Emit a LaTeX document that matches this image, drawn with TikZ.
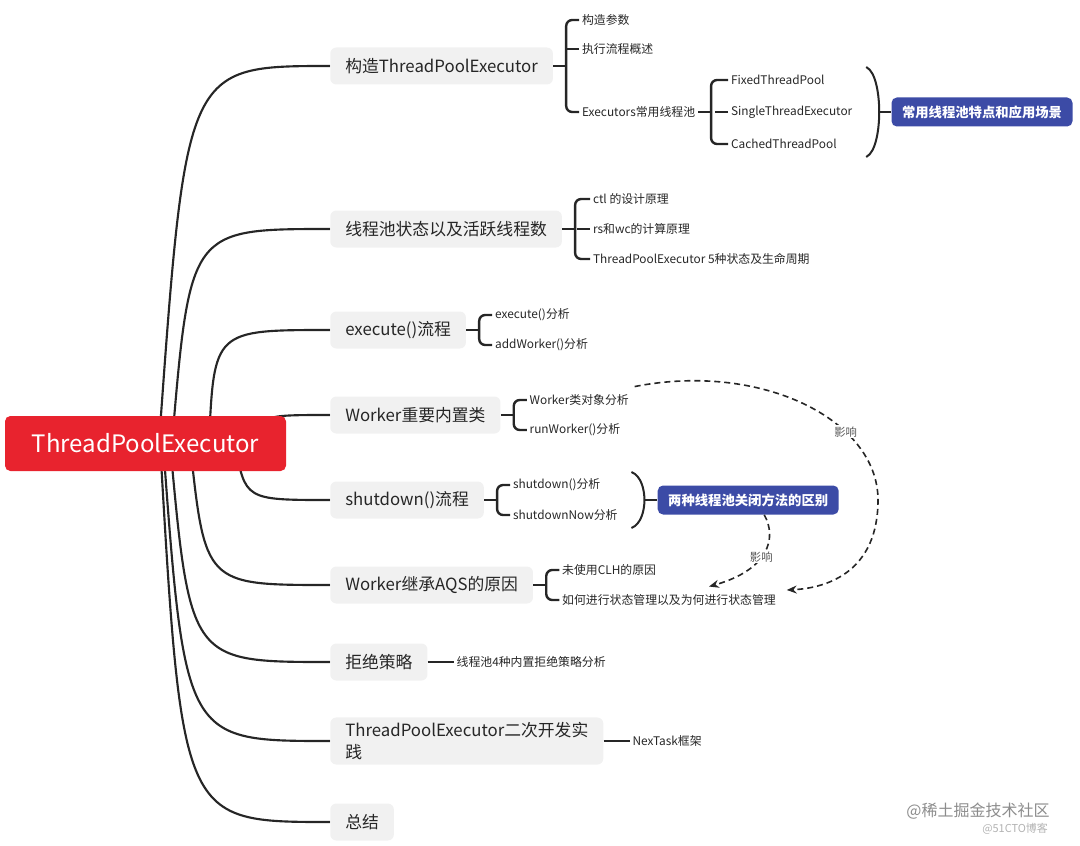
\documentclass[tikz,border=0pt]{standalone}
\usepackage{fontspec}
\setmainfont{Noto Sans CJK SC}
\usetikzlibrary{arrows.meta,backgrounds,calc}

\definecolor{rootred}{HTML}{E8232E}
\definecolor{tagblue}{HTML}{3C4BA6}
\definecolor{boxgray}{HTML}{F1F1F1}
\definecolor{inkdark}{HTML}{262626}

\tikzset{
  rootbox/.style={fill=rootred, rounded corners=4pt, text=white,
    font=\fontsize{18}{21}\selectfont, minimum width=210.75pt, minimum height=41.25pt},
  mainbox/.style={fill=boxgray, rounded corners=4.5pt, text=inkdark, anchor=west,
    font=\fontsize{12.6}{17}\selectfont, align=left, inner xsep=11.25pt, minimum height=27.75pt},
  leaf/.style={text=inkdark, font=\fontsize{8.9}{10}\selectfont, anchor=west, inner xsep=2pt, inner ysep=2pt},
  tagbox/.style={fill=tagblue, rounded corners=4pt, text=white, anchor=west,
    font=\fontsize{10}{12}\selectfont\bfseries, minimum width=135.75pt, minimum height=21.75pt},
  mainline/.style={line width=1.6pt, draw=inkdark},
  braceline/.style={line width=1.8pt, draw=inkdark, rounded corners=4.5pt},
  effect/.style={dash pattern=on 4.5pt off 3pt, line width=1.2pt, draw=inkdark, -{Stealth[length=7.5pt,width=6pt]}},
  effectlabel/.style={text=black!65, fill=white, inner sep=1pt, font=\fontsize{8.5}{10}\selectfont},
  watermark/.style={text=black!45, font=\fontsize{12}{14}\selectfont},
}

\begin{document}
\begin{tikzpicture}[x=0.75pt, y=-0.75pt]
\useasboundingbox (0,0) rectangle (1080,845);

% root
\node[rootbox] (root) at (145.5,443.5) {ThreadPoolExecutor};

% main branches
\node[mainbox] (b1) at (330,66) {构造ThreadPoolExecutor};
\node[mainbox] (b2) at (330,229) {线程池状态以及活跃线程数};
\node[mainbox] (b3) at (330,330) {execute()流程};
\node[mainbox] (b4) at (330,415) {Worker重要内置类};
\node[mainbox] (b5) at (330,500) {shutdown()流程};
\node[mainbox] (b6) at (330,585) {Worker继承AQS的原因};
\node[mainbox] (b7) at (330,662) {拒绝策略};
\node[mainbox] (b8) at (330,741) {ThreadPoolExecutor二次开发实\\践};
\node[mainbox] (b9) at (330,822) {总结};

\begin{scope}[on background layer]
\foreach \b/\sx/\cx in {b1/159/186, b2/172/190, b3/209/214, b4/250/262, b5/235/245,
                        b6/190/205, b7/170/190, b8/163/185, b9/160/182}
  \draw[mainline] (\sx,443) .. controls (\b.west -| \cx,0) .. (\b.west);
\end{scope}

% leaves
\node[leaf] (c11) at ($(b1.east)+(26,-46)$) {构造参数};
\node[leaf] (c12) at ($(b1.east)+(26,-17)$) {执行流程概述};
\node[leaf] (c13) at ($(b1.east)+(26,46)$) {Executors常用线程池};
\node[leaf] (d1) at ($(c13.east)+(30,-32)$) {FixedThreadPool};
\node[leaf] (d2) at ($(c13.east)+(30,0)$) {SingleThreadExecutor};
\node[leaf] (d3) at ($(c13.east)+(30,32)$) {CachedThreadPool};

\node[leaf] (c21) at ($(b2.east)+(28,-30)$) {ctl 的设计原理};
\node[leaf] (c22) at ($(b2.east)+(28,0)$) {rs和wc的计算原理};
\node[leaf] (c23) at ($(b2.east)+(28,30)$) {ThreadPoolExecutor 5种状态及生命周期};

\node[leaf] (c31) at ($(b3.east)+(26,-15)$) {execute()分析};
\node[leaf] (c32) at ($(b3.east)+(26,15)$) {addWorker()分析};

\node[leaf] (c41) at ($(b4.east)+(26,-15)$) {Worker类对象分析};
\node[leaf] (c42) at ($(b4.east)+(26,15)$) {runWorker()分析};

\node[leaf] (c51) at ($(b5.east)+(26,-15)$) {shutdown()分析};
\node[leaf] (c52) at ($(b5.east)+(26,15)$) {shutdownNow分析};

\node[leaf] (c61) at ($(b6.east)+(26,-15)$) {未使用CLH的原因};
\node[leaf] (c62) at ($(b6.east)+(26,15)$) {如何进行状态管理以及为何进行状态管理};

\node[leaf] (c71) at ($(b7.east)+(26,0)$) {线程池4种内置拒绝策略分析};
\node[leaf] (c81) at ($(b8.east)+(26,0)$) {NexTask框架};

% braces
\foreach \p/\a/\z in {b1/c11/c13, c13/d1/d3, b2/c21/c23, b3/c31/c32, b4/c41/c42, b5/c51/c52, b6/c61/c62}{
  \draw[braceline] (\a.west) -| ($(\p.east)+(13,0)$) |- (\z.west);
  \draw[braceline] (\p.east) -- ++(13,0);
}
\foreach \m in {c12, d2, c22}
  \draw[braceline] (\m.west) -- ++(-13,0);
\draw[braceline] (b7.east) -- (c71.west);
\draw[braceline] (b8.east) -- (c81.west);

% summaries
\coordinate (s1) at ($(d2.east)+(24,0)$);
\node[tagbox] (t1) at ($(s1)+(12,0)$) {常用线程池特点和应用场景};
\draw[line width=1.5pt, draw=inkdark] (s1) ++(-13,-45) .. controls +(10,5) and +(0,-16) .. (s1)
  .. controls +(0,16) and +(10,-5) .. ++(-13,45);
\draw[line width=1.5pt, draw=inkdark] (s1) -- (t1.west);

\coordinate (s5) at ($(c52.east |- b5.east)+(24,0)$);
\node[tagbox] (t2) at ($(s5)+(13,0)$) {两种线程池关闭方法的区别};
\draw[line width=1.5pt, draw=inkdark] (s5) ++(-13,-28) .. controls +(10,4) and +(0,-10) .. (s5)
  .. controls +(0,10) and +(10,-4) .. ++(-13,28);
\draw[line width=1.5pt, draw=inkdark] (s5) -- (t2.west);

% effects
\coordinate (bend) at (878,500);
\draw[effect] ($(c41.north east)+(3,-5)$) .. controls +(127,-25) and +(0,-80) .. (bend)
  node[effectlabel, pos=0.68] {影响}
  .. controls +(0,70) and +(43,-2) .. ($(c62.east)+(8,-10)$);
\draw[effect] ($(t2.south)+(16,0)$) .. controls +(13,23) and +(60,-17) .. ($(c62.north)+(40,-5)$)
  node[effectlabel, pos=0.55] {影响};

% watermark
\node[watermark] (wm1) at (978,811) {@稀土掘金技术社区};
\node[watermark, text=black!30, font=\fontsize{8.2}{10}\selectfont] (wm2) at (1015,829) {@51CTO博客};
\end{tikzpicture}
\end{document}
